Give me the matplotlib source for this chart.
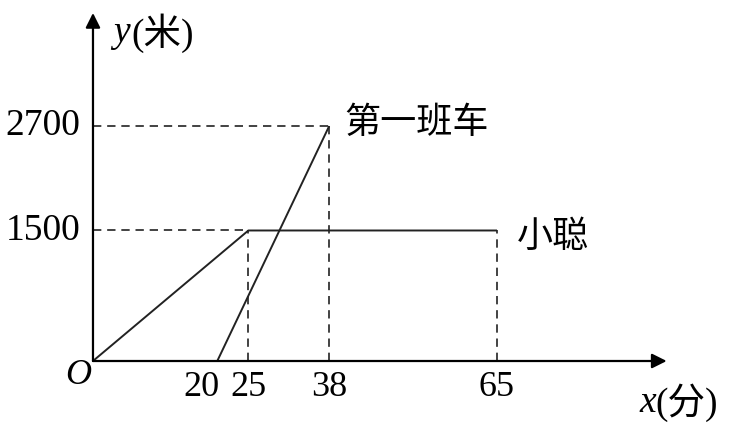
import matplotlib.pyplot as plt

plt.rcParams['font.family'] = ['Liberation Serif', 'Noto Sans CJK SC']

# data
cong_x = [0, 25, 65]          # 小聪
cong_y = [0, 1500, 1500]
bus_x = [20, 38]              # 第一班车
bus_y = [0, 2700]
x_ticks = [20, 25, 38, 65]
x_tick_labels = ['20', '25', '38', '65']
y_ticks = [1500, 2700]
y_tick_labels = ['1500', '2700']

fig = plt.figure(figsize=(7.29, 4.30), dpi=100)
ax = fig.add_axes([0, 0, 1, 1])
ax.set_xlim(-14.96, 102.33)
ax.set_ylim(-793, 4149)
ax.axis('off')

# axes with arrows
arrow = dict(arrowstyle='-|>', color='black', lw=1.6, mutation_scale=22,
             shrinkA=0, shrinkB=0)
ax.annotate('', xy=(92.3, 0), xytext=(0, 0), arrowprops=arrow)
ax.annotate('', xy=(0, 4000), xytext=(0, 0), arrowprops=arrow)

dash = (0, (5, 3.5))
c = '#222222'
# dashed guides
ax.plot([0, bus_x[1]], [bus_y[1], bus_y[1]], color=c, lw=1.2, ls=dash)
ax.plot([bus_x[1], bus_x[1]], [0, bus_y[1]], color=c, lw=1.2, ls=dash)
ax.plot([0, cong_x[1]], [cong_y[1], cong_y[1]], color=c, lw=1.2, ls=dash)
ax.plot([cong_x[1], cong_x[1]], [0, cong_y[1]], color=c, lw=1.2, ls=dash)
ax.plot([cong_x[2], cong_x[2]], [0, cong_y[2]], color=c, lw=1.2, ls=dash)

# solid lines
ax.plot(cong_x, cong_y, color=c, lw=1.4, solid_capstyle='butt')
ax.plot(bus_x, bus_y, color=c, lw=1.4, solid_capstyle='butt')

# tick labels
for xt, lab in zip(x_ticks, x_tick_labels):
    if xt == 20:
        ax.text(xt + 0.3, -310, lab, ha='right', va='center', fontsize=26)
    else:
        ax.text(xt, -310, lab, ha='center', va='center', fontsize=26)
for yt, lab in zip(y_ticks, y_tick_labels):
    ax.text(-2.0, yt, lab, ha='right', va='center', fontsize=27)

ax.text(-0.2, -165, 'O', ha='right', va='center', fontsize=26, style='italic')

# axis names
ax.text(3.2, 3770, 'y', ha='left', va='center', fontsize=27, style='italic')
ax.text(6.2, 3770, '(米)', ha='left', va='center', fontsize=27,
        fontweight='light')
ax.text(88.0, -475, 'x', ha='left', va='center', fontsize=27, style='italic')
ax.text(90.5, -475, '(分)', ha='left', va='center', fontsize=27,
        fontweight='light')

# line names
ax.text(40.5, 2735, '第一班车', ha='left', va='center', fontsize=26,
        family=['Noto Sans CJK SC'], fontweight='light')
ax.text(68.2, 1425, '小聪', ha='left', va='center', fontsize=26,
        family=['Noto Sans CJK SC'], fontweight='light')

fig.savefig('out.png', dpi=100)
